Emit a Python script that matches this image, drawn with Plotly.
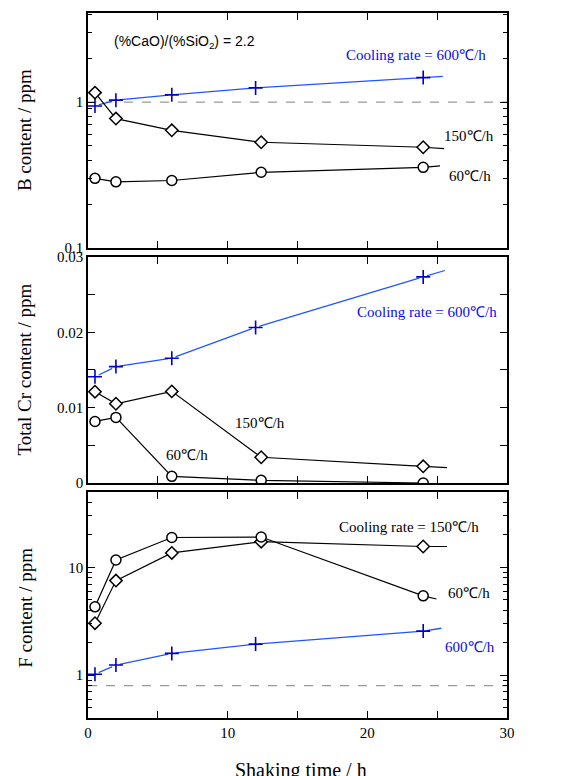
import plotly.graph_objects as go
import math

# ---------------- data ----------------
time_fast = [0.5, 2, 6, 12, 24]          # 600 C/h samples
time_slow = [0.5, 2, 6, 12.4, 24]        # 150 and 60 C/h samples

# B content (ppm)
b_600 = [0.94, 1.03, 1.12, 1.25, 1.47]
b_150 = [1.16, 0.77, 0.64, 0.53, 0.49]
b_60 = [0.30, 0.284, 0.29, 0.33, 0.357]
b_tail_x = {"600": 25.4, "150": 25.5, "60": 25.2}
b_tail_y = {"600": 1.50, "150": 0.48, "60": 0.365}

# Total Cr content (ppm)
cr_600 = [0.0141, 0.01545, 0.01656, 0.02064, 0.02735]
cr_150 = [0.01212, 0.01052, 0.01216, 0.00342, 0.00222]
cr_60 = [0.00817, 0.00871, 0.00089, 0.00036, 0.0]
cr_tail_x = {"600": 25.55, "150": 25.7}
cr_tail_y = {"600": 0.0282, "150": 0.00205}

# F content (ppm)
f_600 = [1.02, 1.24, 1.59, 1.94, 2.56]
f_150 = [3.03, 7.53, 13.6, 17.3, 15.6]
f_60 = [4.3, 11.7, 18.9, 19.1, 5.44]
f_tail_x = {"600": 25.3, "150": 25.7, "60": 24.95}
f_tail_y = {"600": 2.72, "150": 15.6, "60": 5.08}

b_ref = 1.0
f_ref = 0.8

x_tickvals = [0, 5, 10, 15, 20, 25, 30]
x_ticktext = ["0", "", "10", "", "20", "", "30"]

# ---------------- style ----------------
SERIF = "Liberation Serif, Times New Roman, serif"
SANS = "Liberation Sans, Arial, sans-serif"
BLUE_LINE = "#1f55ff"
BLUE_MARK = "#0000cc"
BLUE_TEXT = "#0a0aee"

fig = go.Figure()


def add_series(xs, ys, tail_x, tail_y, kind, xa, ya):
    lx = list(xs) + ([tail_x] if tail_x is not None else [])
    ly = list(ys) + ([tail_y] if tail_y is not None else [])
    if kind == "600":
        fig.add_trace(go.Scatter(x=lx, y=ly, mode="lines", xaxis=xa, yaxis=ya,
                                 line=dict(color=BLUE_LINE, width=1.3),
                                 showlegend=False, hoverinfo="skip"))
        fig.add_trace(go.Scatter(x=xs, y=ys, mode="markers", xaxis=xa, yaxis=ya,
                                 marker=dict(symbol="square", size=7.5, color="white",
                                             line=dict(width=0)),
                                 showlegend=False, hoverinfo="skip"))
        fig.add_trace(go.Scatter(x=xs, y=ys, mode="markers", xaxis=xa, yaxis=ya,
                                 marker=dict(symbol="cross-thin", size=10,
                                             line=dict(color=BLUE_MARK, width=1.6)),
                                 showlegend=False))
    else:
        sym = "diamond" if kind == "150" else "circle"
        size = 9.5 if kind == "150" else 10
        fig.add_trace(go.Scatter(x=lx, y=ly, mode="lines", xaxis=xa, yaxis=ya,
                                 line=dict(color="black", width=1.2),
                                 showlegend=False, hoverinfo="skip"))
        fig.add_trace(go.Scatter(x=xs, y=ys, mode="markers", xaxis=xa, yaxis=ya,
                                 marker=dict(symbol=sym, size=size, color="white",
                                             line=dict(color="black", width=1.5)),
                                 showlegend=False))


# top panel: B
add_series(time_fast, b_600, b_tail_x["600"], b_tail_y["600"], "600", "x", "y")
add_series(time_slow, b_150, b_tail_x["150"], b_tail_y["150"], "150", "x", "y")
add_series(time_slow, b_60, b_tail_x["60"], b_tail_y["60"], "60", "x", "y")
# middle panel: Cr
add_series(time_fast, cr_600, cr_tail_x["600"], cr_tail_y["600"], "600", "x2", "y2")
add_series(time_slow, cr_150, cr_tail_x["150"], cr_tail_y["150"], "150", "x2", "y2")
add_series(time_slow, cr_60, None, None, "60", "x2", "y2")
# bottom panel: F
add_series(time_fast, f_600, f_tail_x["600"], f_tail_y["600"], "600", "x3", "y3")
add_series(time_slow, f_150, f_tail_x["150"], f_tail_y["150"], "150", "x3", "y3")
add_series(time_slow, f_60, f_tail_x["60"], f_tail_y["60"], "60", "x3", "y3")

# dashed reference lines
fig.add_shape(type="line", xref="x domain", yref="y", x0=0, x1=1, y0=b_ref, y1=b_ref,
              line=dict(color="#999999", width=1.2, dash="dash"), layer="below")
fig.add_shape(type="line", xref="x3 domain", yref="y3", x0=0, x1=1, y0=f_ref, y1=f_ref,
              line=dict(color="#999999", width=1.2, dash="dash"), layer="below")

axis_common = dict(showline=True, linecolor="black", linewidth=1.5, mirror="allticks",
                   ticks="inside", ticklen=7, tickwidth=1.2, tickcolor="black",
                   showgrid=False, zeroline=False, automargin=False,
                   tickfont=dict(family=SERIF, size=15, color="black"))

xcommon = dict(axis_common, range=[0, 30], tickmode="array",
               tickvals=x_tickvals, ticktext=x_ticktext)

b_minor = [m * 10 ** e for e in (-1, 0) for m in range(2, 10)]
f_minor = [m * 10 ** e for e in (-1, 0, 1) for m in range(2, 10)]

# the page body adds an 8px margin; size and margins compensate for it
fig.update_layout(
    width=557, height=768,
    margin=dict(l=80, r=58, t=5, b=58, pad=0),
    paper_bgcolor="white", plot_bgcolor="white",
    showlegend=False,
    xaxis=dict(xcommon, domain=[0, 1], anchor="y", showticklabels=False, matches="x3"),
    xaxis2=dict(xcommon, domain=[0, 1], anchor="y2", showticklabels=False, matches="x3"),
    xaxis3=dict(xcommon, domain=[0, 1], anchor="y3", showticklabels=True),
    yaxis=dict(axis_common, type="log", domain=[0.6667, 1.0], anchor="x",
               range=[-1, 0.61], tickmode="array", tickvals=[0.1, 1], ticktext=["0.1", "1"],
               minor=dict(ticks="inside", ticklen=4, tickwidth=1.1, tickcolor="black",
                          tickmode="array", tickvals=b_minor)),
    yaxis2=dict(axis_common, domain=[0.3333, 0.654], anchor="x2",
                range=[0, 0.03], tickmode="array",
                tickvals=[0, 0.005, 0.01, 0.015, 0.02, 0.025, 0.03],
                ticktext=["0", "", "0.01", "", "0.02", "", "0.03"]),
    yaxis3=dict(axis_common, type="log", domain=[0, 0.3206], anchor="x3",
                range=[math.log10(0.4), math.log10(50)], tickmode="array",
                tickvals=[1, 10], ticktext=["1", "10"],
                minor=dict(ticks="inside", ticklen=4, tickwidth=1.1, tickcolor="black",
                           tickmode="array", tickvals=f_minor)),
)


def note(text, x, y, color="black", family=SERIF, size=15, anchor="left", angle=0):
    fig.add_annotation(text=text, x=x, y=y, xref="paper", yref="paper",
                       xanchor=anchor, yanchor="middle", showarrow=False,
                       textangle=angle, font=dict(family=family, size=size, color=color))


# panel texts (paper coordinates)
note("(%CaO)/(%SiO<sub>2</sub>) = 2.2", 0.057, 0.959, family=SANS, size=14)
note("Cooling rate = 600℃/h", 0.611, 0.940, color=BLUE_TEXT)
note("150℃/h", 0.845, 0.8255)
note("60℃/h", 0.857, 0.769)

note("Cooling rate = 600℃/h", 0.637, 0.576, color=BLUE_TEXT)
note("150℃/h", 0.346, 0.418)
note("60℃/h", 0.181, 0.373)

note("Cooling rate = 150℃/h", 0.594, 0.271)
note("60℃/h", 0.854, 0.177)
note("600℃/h", 0.847, 0.1007, color=BLUE_TEXT)

# axis titles
fig.add_annotation(text="B content / ppm", x=-0.151, y=0.8335, xref="paper", yref="paper",
                   textangle=-90, showarrow=False, xanchor="center", yanchor="middle",
                   font=dict(family=SERIF, size=19, color="black"))
fig.add_annotation(text="Total Cr content / ppm", x=-0.151, y=0.494, xref="paper", yref="paper",
                   textangle=-90, showarrow=False, xanchor="center", yanchor="middle",
                   font=dict(family=SERIF, size=19, color="black"))
fig.add_annotation(text="F content / ppm", x=-0.151, y=0.156, xref="paper", yref="paper",
                   textangle=-90, showarrow=False, xanchor="center", yanchor="middle",
                   font=dict(family=SERIF, size=19, color="black"))
fig.add_annotation(text="Shaking time / h", x=0.508, y=-0.074, xref="paper", yref="paper",
                   showarrow=False, xanchor="center", yanchor="middle",
                   font=dict(family=SERIF, size=20, color="black"))

fig.write_html("out.html")
